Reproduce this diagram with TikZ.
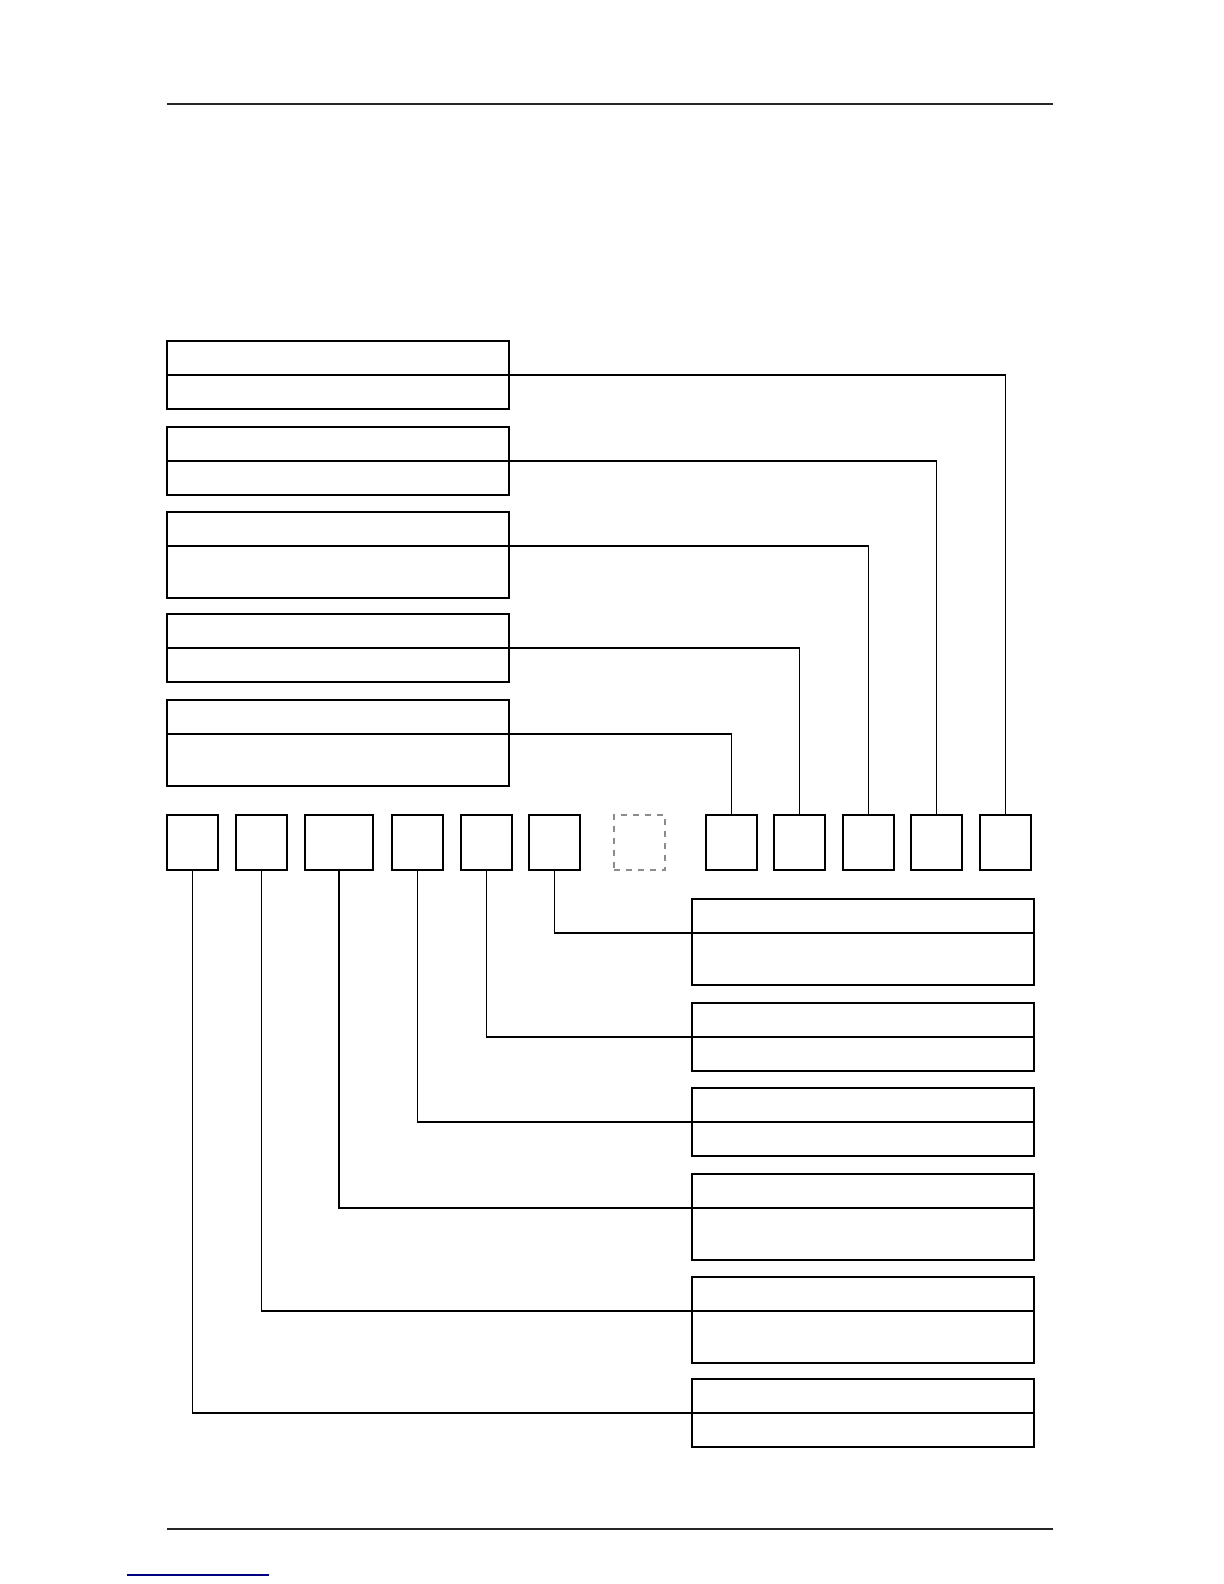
\documentclass[tikz,border=0pt]{standalone}
\usetikzlibrary{positioning}

\tikzset{
  part/.style={draw, line width=.9pt, minimum width=171pt, minimum height=17pt,
    inner sep=0pt, outer sep=0pt},
  tall/.style={part, minimum height=26pt},
  cell/.style={draw, line width=.9pt, minimum width=25.5pt, minimum height=27.5pt,
    inner sep=0pt, outer sep=0pt, anchor=north west},
  wire/.style={line width=.7pt},
  rule/.style={line width=.6pt, black!85}
}

\begin{document}
\begin{tikzpicture}[x=0.5pt,y=-0.5pt]
  \useasboundingbox (0,0) rectangle (1224,1584);

  % page rules
  \draw[rule] (167,104) coordinate (ra) -- (1053,104) coordinate (rb);
  \draw[rule] (167,1529) coordinate (rc) -- (1053,1529) coordinate (rd);
  \draw[line width=.6pt, blue!50!black] (127,1575) coordinate (la) -- (269,1575) coordinate (lb);

  % left boxes
  \node[part, anchor=north west] (l1t) at (167,341) {};
  \node[part, below=0pt of l1t] (l1b) {};
  \node[part, anchor=north west] (l2t) at (167,427) {};
  \node[part, below=0pt of l2t] (l2b) {};
  \node[part, anchor=north west] (l3t) at (167,512) {};
  \node[tall, below=0pt of l3t] (l3b) {};
  \node[part, anchor=north west] (l4t) at (167,614) {};
  \node[part, below=0pt of l4t] (l4b) {};
  \node[part, anchor=north west] (l5t) at (167,700) {};
  \node[tall, below=0pt of l5t] (l5b) {};

  % row of cells
  \node[cell] (s1) at (167,815) {};
  \node[cell] (s2) at (236,815) {};
  \node[cell, minimum width=34pt] (s3) at (305,815) {};
  \node[cell] (s4) at (392,815) {};
  \node[cell] (s5) at (461,815) {};
  \node[cell] (s6) at (529,815) {};
  \node[cell, dashed, draw=black!45, line width=.6pt] (sd) at (614,815) {};
  \node[cell] (s7) at (706,815) {};
  \node[cell] (s8) at (774,815) {};
  \node[cell] (s9) at (843,815) {};
  \node[cell] (s10) at (911,815) {};
  \node[cell] (s11) at (980,815) {};

  % right boxes
  \node[part, anchor=north west] (r1t) at (692,899) {};
  \node[tall, below=0pt of r1t] (r1b) {};
  \node[part, anchor=north west] (r2t) at (692,1003) {};
  \node[part, below=0pt of r2t] (r2b) {};
  \node[part, anchor=north west] (r3t) at (692,1088) {};
  \node[part, below=0pt of r3t] (r3b) {};
  \node[part, anchor=north west] (r4t) at (692,1174) {};
  \node[tall, below=0pt of r4t] (r4b) {};
  \node[part, anchor=north west] (r5t) at (692,1277) {};
  \node[tall, below=0pt of r5t] (r5b) {};
  \node[part, anchor=north west] (r6t) at (692,1379) {};
  \node[part, below=0pt of r6t] (r6b) {};

  % links
  \draw[wire] (l1b.north east) -| (s11.north);
  \draw[wire] (l2b.north east) -| (s10.north);
  \draw[wire] (l3b.north east) -| (s9.north);
  \draw[wire] (l4b.north east) -| (s8.north);
  \draw[wire] (l5b.north east) -| (s7.north);
  \draw[wire] (s6.south) |- (r1b.north west);
  \draw[wire] (s5.south) |- (r2b.north west);
  \draw[wire] (s4.south) |- (r3b.north west);
  \draw[wire] (s3.south) |- (r4b.north west);
  \draw[wire] (s2.south) |- (r5b.north west);
  \draw[wire] (s1.south) |- (r6b.north west);
\end{tikzpicture}
\end{document}
